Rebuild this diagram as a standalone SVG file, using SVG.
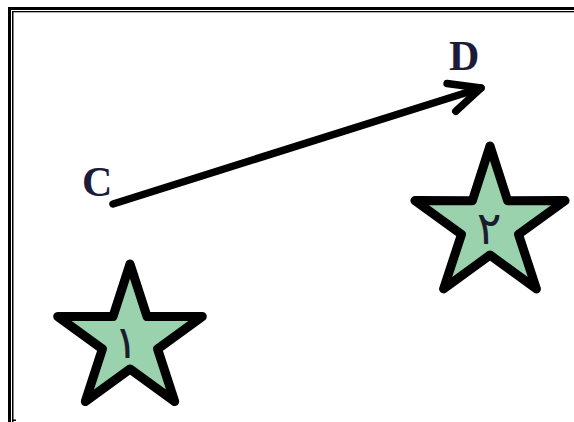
<svg xmlns="http://www.w3.org/2000/svg" width="574" height="422" viewBox="0 0 574 422">
  <style>
    .star { fill: #9ad2ad; stroke: #000; stroke-width: 9; stroke-linejoin: round; }
    .num { font-family: "DejaVu Sans", sans-serif; font-size: 46px; fill: #1c1c2c; text-anchor: middle; }
    .lbl { font-family: "Liberation Serif", serif; font-weight: bold; font-size: 42px; fill: #1c1c3a; }
    .edge { fill: none; stroke: #000; stroke-width: 7.5; stroke-linecap: round; stroke-linejoin: round; }
  </style>
  <defs>
    <marker id="arr" markerUnits="userSpaceOnUse" viewBox="-40 -20 48 40" refX="0" refY="0" markerWidth="48" markerHeight="40" orient="auto" overflow="visible">
      <path d="M -31 -14.5 L 0 0 L -31 14.5" fill="none" stroke="#000" stroke-width="7.5" stroke-linecap="round" stroke-linejoin="round"/>
    </marker>
  </defs>
  <rect width="574" height="422" fill="#fff"/>
  <g id="frame">
    <rect x="8" y="7" width="566" height="3" fill="#000"/>
    <rect x="12" y="11" width="562" height="1.3" fill="#000"/>
    <rect x="8" y="7" width="3" height="415" fill="#000"/>
    <rect x="12" y="11" width="1.5" height="411" fill="#000"/>
    <rect x="12" y="419.5" width="4" height="1.5" fill="#000"/>
  </g>
  <g id="connectors">
    <path class="edge" d="M 113 204 L 481 88" marker-end="url(#arr)"/>
  </g>
  <g id="C">
    <text class="lbl" x="82" y="196">C</text>
  </g>
  <g id="D">
    <text class="lbl" x="449" y="70">D</text>
  </g>
  <g id="star1">
    <polygon class="star" points="130,264 147,316.5 202.3,316.5 157.6,349 174.7,401.5 130,369 85.3,401.5 102.4,349 57.7,316.5 113,316.5"/>
    <text class="num" x="126" y="358">١</text>
  </g>
  <g id="star2">
    <polygon class="star" points="490,146 507.6,200.7 565.1,200.6 518.5,234.3 536.4,288.9 490,255 443.6,288.9 461.5,234.3 414.9,200.6 472.4,200.7"/>
    <text class="num" x="489" y="244">٢</text>
  </g>
</svg>
